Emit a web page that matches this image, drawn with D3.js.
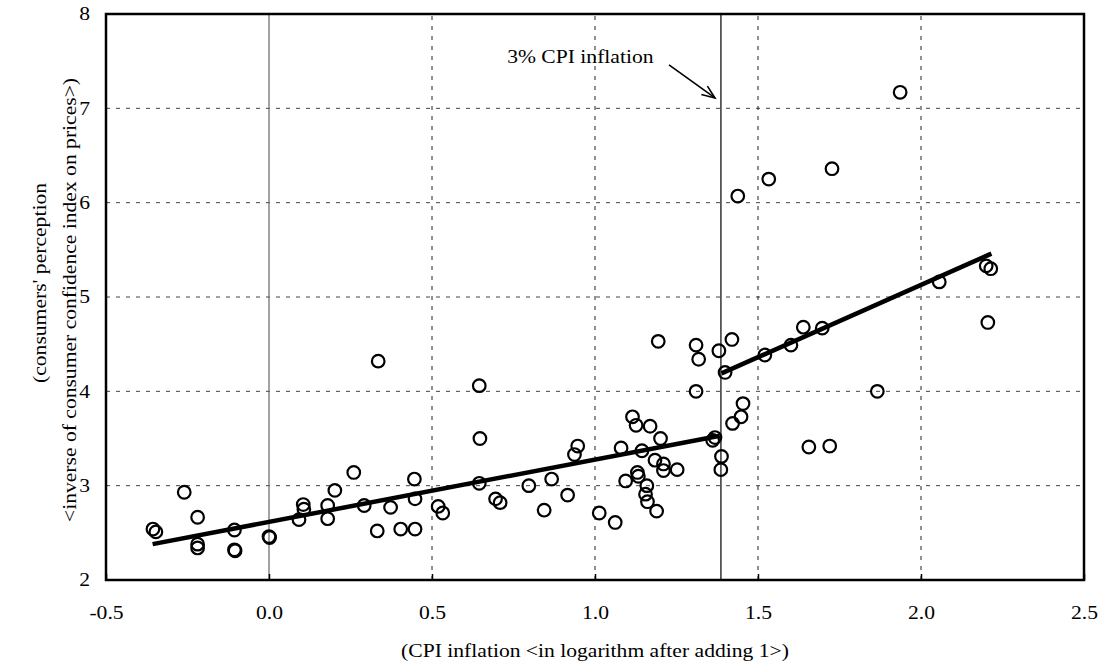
<!DOCTYPE html>
<html>
<head>
<meta charset="utf-8">
<script src="https://cdn.jsdelivr.net/npm/d3@7"></script>
<style>
  html, body { margin: 0; padding: 0; background: #fff; }
  svg { display: block; }
  text { font-family: "Liberation Serif", "Times New Roman", serif; fill: #000; }
</style>
</head>
<body>
<svg id="chart" width="1106" height="672"></svg>
<script>
// CPI inflation (log of inflation + 1) against consumers' perceived price pressure
const cpiLog = [
  -0.356, -0.347, -0.26, -0.219, -0.219, -0.219, -0.106, -0.106, -0.104, 0.0,
  0.002, 0.092, 0.105, 0.107, 0.18, 0.18, 0.202, 0.26, 0.292, 0.332,
  0.335, 0.373, 0.404, 0.448, 0.448, 0.446, 0.519, 0.533, 0.645, 0.647,
  0.645, 0.695, 0.709, 0.797, 0.844, 0.867, 0.916, 0.937, 0.947, 1.013,
  1.062, 1.08, 1.094, 1.115, 1.126, 1.13, 1.133, 1.144, 1.159, 1.155,
  1.161, 1.169, 1.184, 1.189, 1.194, 1.201, 1.21, 1.21, 1.252, 1.31,
  1.318, 1.31, 1.361, 1.368, 1.38, 1.388, 1.386, 1.399, 1.42, 1.422,
  1.448, 1.454, 1.438, 1.533, 1.727, 1.521, 1.601, 1.639, 1.697, 1.656,
  1.72, 1.866, 1.936, 2.056, 2.2, 2.214, 2.205
];
const perception = [
  2.54, 2.51, 2.93, 2.665, 2.38, 2.34, 2.53, 2.32, 2.31, 2.46,
  2.45, 2.64, 2.80, 2.75, 2.79, 2.65, 2.95, 3.14, 2.79, 2.52,
  4.32, 2.77, 2.54, 2.54, 2.86, 3.07, 2.78, 2.71, 4.06, 3.50,
  3.025, 2.86, 2.82, 3.0, 2.74, 3.07, 2.90, 3.33, 3.42, 2.71,
  2.61, 3.40, 3.05, 3.73, 3.64, 3.14, 3.10, 3.37, 3.0, 2.91,
  2.83, 3.63, 3.27, 2.73, 4.53, 3.50, 3.23, 3.16, 3.17, 4.49,
  4.34, 4.0, 3.48, 3.51, 4.43, 3.31, 3.17, 4.20, 4.55, 3.66,
  3.73, 3.87, 6.07, 6.25, 6.36, 4.385, 4.49, 4.68, 4.67, 3.41,
  3.42, 4.0, 7.17, 5.16, 5.33, 5.30, 4.73
];

// Fitted lines below and above the 3% inflation threshold
const fitLowX = [-0.357, 1.383];
const fitLowY = [2.38, 3.53];
const fitHighX = [1.388, 2.216];
const fitHighY = [4.19, 5.46];

const threshold = Math.log(4); // 3% CPI inflation, log(3 + 1)

const xTicks = [-0.5, 0.0, 0.5, 1.0, 1.5, 2.0, 2.5];
const yTicks = [2, 3, 4, 5, 6, 7, 8];

const annotationText = "3% CPI inflation";
const annotationLabel = [0.955, 7.48];
const arrowFrom = [1.227, 7.46];
const arrowTo = [1.368, 7.11];

const xTitle = "(CPI inflation <in logarithm after adding 1>)";
const yTitle = ["(consumers' perception", "<inverse of consumer confidence index on prices>)"];

const svg = d3.select("#chart");
const W = 1106, H = 672;
const margin = { left: 106, top: 14, right: W - 1084, bottom: H - 580 };
const x = d3.scaleLinear().domain([-0.5, 2.5]).range([margin.left, W - margin.right]);
const y = d3.scaleLinear().domain([2, 8]).range([H - margin.bottom, margin.top]);

// Serif type, set slightly wide
const fontSize = 18;
const widen = 1.2;

// Gridlines
const grid = svg.append("g");
grid.selectAll("line.hg").data(yTicks.filter(d => d > 2 && d < 8)).join("line")
  .attr("x1", x.range()[0]).attr("x2", x.range()[1])
  .attr("y1", d => y(d)).attr("y2", d => y(d))
  .attr("stroke", "#444").attr("stroke-width", 1).attr("stroke-dasharray", "4,6");
grid.selectAll("line.vg").data(xTicks.filter(d => d !== 0 && d > -0.5 && d < 2.5)).join("line")
  .attr("x1", d => x(d)).attr("x2", d => x(d))
  .attr("y1", y.range()[0]).attr("y2", y.range()[1])
  .attr("stroke", "#222").attr("stroke-width", 1).attr("stroke-dasharray", "4,6");

// Zero line and threshold line
svg.append("line")
  .attr("x1", x(0)).attr("x2", x(0)).attr("y1", y(2)).attr("y2", y(8))
  .attr("stroke", "#666").attr("stroke-width", 1.2);
svg.append("line")
  .attr("x1", x(threshold)).attr("x2", x(threshold)).attr("y1", y(2)).attr("y2", y(8))
  .attr("stroke", "#000").attr("stroke-width", 1.2);

// Bottom axis with inward ticks
const xAxis = svg.append("g")
  .attr("transform", `translate(0,${y(2)})`)
  .call(d3.axisBottom(x).tickValues(xTicks).tickFormat(d => d.toFixed(1)).tickSizeInner(-6).tickSizeOuter(0));
xAxis.select(".domain").remove();
xAxis.selectAll(".tick line").attr("stroke", "#000").attr("stroke-width", 1.5);
xAxis.selectAll("text")
  .attr("font-size", fontSize).attr("font-family", "Liberation Serif").attr("fill", "#000")
  .attr("y", 39).attr("dy", null)
  .attr("transform", `scale(${widen},1)`);

// Left axis labels
const yAxis = svg.append("g")
  .attr("transform", `translate(${x(-0.5)},0)`)
  .call(d3.axisLeft(y).tickValues(yTicks).tickFormat(d3.format("d")).tickSizeInner(0).tickSizeOuter(0));
yAxis.select(".domain").remove();
yAxis.selectAll(".tick line").remove();
yAxis.selectAll("text")
  .attr("font-size", fontSize).attr("font-family", "Liberation Serif").attr("fill", "#000")
  .attr("x", -16 / widen).attr("dy", "0.33em")
  .attr("transform", `scale(${widen},1)`);

// Frame
svg.append("rect")
  .attr("x", x(-0.5)).attr("y", y(8))
  .attr("width", x(2.5) - x(-0.5)).attr("height", y(2) - y(8))
  .attr("fill", "none").attr("stroke", "#000").attr("stroke-width", 2.5);

// Fitted lines
const line = d3.line().x(d => x(d[0])).y(d => y(d[1]));
[[fitLowX, fitLowY], [fitHighX, fitHighY]].forEach(([fx, fy]) => {
  svg.append("path")
    .datum(fx.map((v, i) => [v, fy[i]]))
    .attr("d", line)
    .attr("fill", "none").attr("stroke", "#000").attr("stroke-width", 4.5);
});

// Observations
svg.append("g").selectAll("circle").data(cpiLog.map((v, i) => [v, perception[i]])).join("circle")
  .attr("cx", d => x(d[0])).attr("cy", d => y(d[1])).attr("r", 6.3)
  .attr("fill", "none").attr("stroke", "#000").attr("stroke-width", 2.2);

// Annotation
svg.append("text")
  .attr("transform", `translate(${x(annotationLabel[0])},${y(annotationLabel[1])}) scale(${widen},1)`)
  .attr("text-anchor", "middle").attr("font-size", fontSize)
  .text(annotationText);
const ax1 = x(arrowFrom[0]), ay1 = y(arrowFrom[1]), ax2 = x(arrowTo[0]), ay2 = y(arrowTo[1]);
svg.append("line")
  .attr("x1", ax1).attr("y1", ay1).attr("x2", ax2).attr("y2", ay2)
  .attr("stroke", "#000").attr("stroke-width", 1.6);
const ang = Math.atan2(ay2 - ay1, ax2 - ax1);
const headLen = 14, spread = 0.38;
svg.append("path")
  .attr("d", `M${ax2 - headLen * Math.cos(ang - spread)},${ay2 - headLen * Math.sin(ang - spread)}L${ax2},${ay2}L${ax2 - headLen * Math.cos(ang + spread)},${ay2 - headLen * Math.sin(ang + spread)}`)
  .attr("fill", "none").attr("stroke", "#000").attr("stroke-width", 1.6);

// Axis titles
svg.append("text")
  .attr("transform", `translate(${(x.range()[0] + x.range()[1]) / 2},657) scale(${widen},1)`)
  .attr("text-anchor", "middle").attr("font-size", fontSize)
  .text(xTitle);
const yMid = (y.range()[0] + y.range()[1]) / 2;
svg.append("text")
  .attr("transform", `translate(46,${yMid - 14}) rotate(-90) scale(${widen},1)`)
  .attr("text-anchor", "middle").attr("font-size", fontSize)
  .text(yTitle[0]);
svg.append("text")
  .attr("transform", `translate(76,${yMid + 3}) rotate(-90) scale(${widen},1)`)
  .attr("text-anchor", "middle").attr("font-size", fontSize)
  .text(yTitle[1]);
</script>
</body>
</html>
